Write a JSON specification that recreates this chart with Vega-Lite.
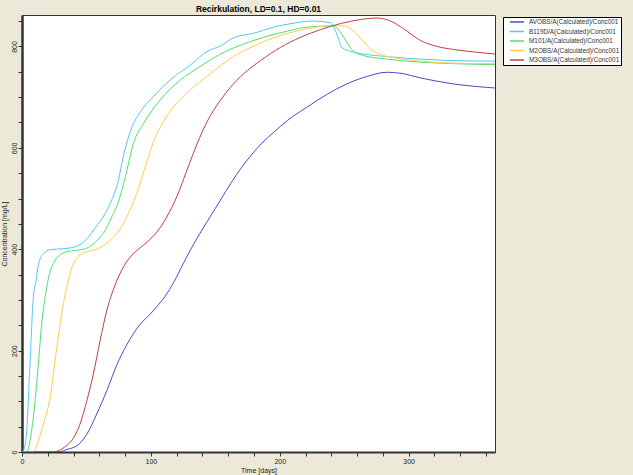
{
  "$schema": "https://vega.github.io/schema/vega-lite/v6.json",
  "autosize": {"type": "none"},
  "padding": {"left": 22, "top": 15, "right": 138, "bottom": 23},
  "width": 473,
  "height": 437,
  "background": "#ECE9D8",
  "title": {"text": "Recirkulation, LD=0.1, HD=0.01", "font": "Liberation Sans", "fontSize": 8.5, "fontWeight": "bold", "color": "#000", "offset": 2},
  "config": {
    "view": {"fill": "white", "stroke": "#333", "strokeWidth": 1},
    "axis": {"labelFont": "Liberation Sans", "titleFont": "Liberation Sans", "labelFontSize": 7, "titleFontSize": 7, "titleFontWeight": "normal", "labelColor": "#222", "titleColor": "#222", "domainColor": "#333", "domainWidth": 2.5, "tickColor": "#333", "grid": false}
  },
  "datasets": {
    "d": [
      {"s":"AVOBS/A(Calculated)/Conc001","t":0,"c":0},{"s":"AVOBS/A(Calculated)/Conc001","t":24,"c":0},{"s":"AVOBS/A(Calculated)/Conc001","t":30,"c":1},{"s":"AVOBS/A(Calculated)/Conc001","t":34.7,"c":5},{"s":"AVOBS/A(Calculated)/Conc001","t":42.5,"c":12},{"s":"AVOBS/A(Calculated)/Conc001","t":50.3,"c":35},{"s":"AVOBS/A(Calculated)/Conc001","t":58,"c":75},{"s":"AVOBS/A(Calculated)/Conc001","t":65.8,"c":121},{"s":"AVOBS/A(Calculated)/Conc001","t":73.6,"c":172},{"s":"AVOBS/A(Calculated)/Conc001","t":81.4,"c":212},{"s":"AVOBS/A(Calculated)/Conc001","t":91.7,"c":252},{"s":"AVOBS/A(Calculated)/Conc001","t":99.5,"c":272},{"s":"AVOBS/A(Calculated)/Conc001","t":105,"c":288},{"s":"AVOBS/A(Calculated)/Conc001","t":111,"c":307},{"s":"AVOBS/A(Calculated)/Conc001","t":118,"c":336},{"s":"AVOBS/A(Calculated)/Conc001","t":125,"c":371},{"s":"AVOBS/A(Calculated)/Conc001","t":131,"c":400},{"s":"AVOBS/A(Calculated)/Conc001","t":138,"c":431},{"s":"AVOBS/A(Calculated)/Conc001","t":146,"c":464},{"s":"AVOBS/A(Calculated)/Conc001","t":154,"c":497},{"s":"AVOBS/A(Calculated)/Conc001","t":162,"c":530},{"s":"AVOBS/A(Calculated)/Conc001","t":170,"c":560},{"s":"AVOBS/A(Calculated)/Conc001","t":178,"c":586},{"s":"AVOBS/A(Calculated)/Conc001","t":186,"c":609},{"s":"AVOBS/A(Calculated)/Conc001","t":195,"c":630},{"s":"AVOBS/A(Calculated)/Conc001","t":206,"c":654},{"s":"AVOBS/A(Calculated)/Conc001","t":221,"c":680},{"s":"AVOBS/A(Calculated)/Conc001","t":237,"c":706},{"s":"AVOBS/A(Calculated)/Conc001","t":252,"c":726},{"s":"AVOBS/A(Calculated)/Conc001","t":268,"c":741},{"s":"AVOBS/A(Calculated)/Conc001","t":283,"c":749},{"s":"AVOBS/A(Calculated)/Conc001","t":294,"c":747},{"s":"AVOBS/A(Calculated)/Conc001","t":309,"c":738},{"s":"AVOBS/A(Calculated)/Conc001","t":335,"c":726},{"s":"AVOBS/A(Calculated)/Conc001","t":367,"c":718},
      {"s":"B119D/A(Calculated)/Conc001","t":0,"c":0},{"s":"B119D/A(Calculated)/Conc001","t":1,"c":2},{"s":"B119D/A(Calculated)/Conc001","t":3.6,"c":41},{"s":"B119D/A(Calculated)/Conc001","t":6.2,"c":174},{"s":"B119D/A(Calculated)/Conc001","t":8.8,"c":305},{"s":"B119D/A(Calculated)/Conc001","t":10.9,"c":338},{"s":"B119D/A(Calculated)/Conc001","t":12.7,"c":369},{"s":"B119D/A(Calculated)/Conc001","t":16.6,"c":391},{"s":"B119D/A(Calculated)/Conc001","t":21.8,"c":399},{"s":"B119D/A(Calculated)/Conc001","t":32,"c":401},{"s":"B119D/A(Calculated)/Conc001","t":40,"c":404},{"s":"B119D/A(Calculated)/Conc001","t":45,"c":409},{"s":"B119D/A(Calculated)/Conc001","t":49,"c":417},{"s":"B119D/A(Calculated)/Conc001","t":53,"c":429},{"s":"B119D/A(Calculated)/Conc001","t":57,"c":443},{"s":"B119D/A(Calculated)/Conc001","t":60.6,"c":455},{"s":"B119D/A(Calculated)/Conc001","t":64.5,"c":470},{"s":"B119D/A(Calculated)/Conc001","t":68.4,"c":490},{"s":"B119D/A(Calculated)/Conc001","t":74.8,"c":536},{"s":"B119D/A(Calculated)/Conc001","t":78.5,"c":582},{"s":"B119D/A(Calculated)/Conc001","t":84,"c":632},{"s":"B119D/A(Calculated)/Conc001","t":93,"c":675},{"s":"B119D/A(Calculated)/Conc001","t":102,"c":701},{"s":"B119D/A(Calculated)/Conc001","t":115,"c":734},{"s":"B119D/A(Calculated)/Conc001","t":130.5,"c":763},{"s":"B119D/A(Calculated)/Conc001","t":143.5,"c":790},{"s":"B119D/A(Calculated)/Conc001","t":154,"c":801},{"s":"B119D/A(Calculated)/Conc001","t":164,"c":817},{"s":"B119D/A(Calculated)/Conc001","t":180,"c":826},{"s":"B119D/A(Calculated)/Conc001","t":195,"c":838},{"s":"B119D/A(Calculated)/Conc001","t":211,"c":846},{"s":"B119D/A(Calculated)/Conc001","t":224,"c":850},{"s":"B119D/A(Calculated)/Conc001","t":239,"c":847},{"s":"B119D/A(Calculated)/Conc001","t":243,"c":832},{"s":"B119D/A(Calculated)/Conc001","t":246,"c":812},{"s":"B119D/A(Calculated)/Conc001","t":248,"c":798},{"s":"B119D/A(Calculated)/Conc001","t":257,"c":789},{"s":"B119D/A(Calculated)/Conc001","t":283,"c":780},{"s":"B119D/A(Calculated)/Conc001","t":309,"c":775},{"s":"B119D/A(Calculated)/Conc001","t":335,"c":772},{"s":"B119D/A(Calculated)/Conc001","t":367,"c":771},
      {"s":"M101/A(Calculated)/Conc001","t":0,"c":0},{"s":"M101/A(Calculated)/Conc001","t":3.6,"c":0},{"s":"M101/A(Calculated)/Conc001","t":6.2,"c":22},{"s":"M101/A(Calculated)/Conc001","t":8.8,"c":68},{"s":"M101/A(Calculated)/Conc001","t":12.7,"c":174},{"s":"M101/A(Calculated)/Conc001","t":15.3,"c":253},{"s":"M101/A(Calculated)/Conc001","t":17.9,"c":305},{"s":"M101/A(Calculated)/Conc001","t":21.8,"c":356},{"s":"M101/A(Calculated)/Conc001","t":24.3,"c":372},{"s":"M101/A(Calculated)/Conc001","t":29.5,"c":389},{"s":"M101/A(Calculated)/Conc001","t":34.7,"c":395},{"s":"M101/A(Calculated)/Conc001","t":42.5,"c":398},{"s":"M101/A(Calculated)/Conc001","t":50.3,"c":402},{"s":"M101/A(Calculated)/Conc001","t":55,"c":410},{"s":"M101/A(Calculated)/Conc001","t":60.6,"c":424},{"s":"M101/A(Calculated)/Conc001","t":64.5,"c":437},{"s":"M101/A(Calculated)/Conc001","t":68.4,"c":457},{"s":"M101/A(Calculated)/Conc001","t":76,"c":503},{"s":"M101/A(Calculated)/Conc001","t":81.4,"c":556},{"s":"M101/A(Calculated)/Conc001","t":86.5,"c":609},{"s":"M101/A(Calculated)/Conc001","t":94.3,"c":648},{"s":"M101/A(Calculated)/Conc001","t":107,"c":694},{"s":"M101/A(Calculated)/Conc001","t":123,"c":734},{"s":"M101/A(Calculated)/Conc001","t":138,"c":760},{"s":"M101/A(Calculated)/Conc001","t":154,"c":785},{"s":"M101/A(Calculated)/Conc001","t":169,"c":802},{"s":"M101/A(Calculated)/Conc001","t":187.5,"c":818},{"s":"M101/A(Calculated)/Conc001","t":205.7,"c":830},{"s":"M101/A(Calculated)/Conc001","t":221,"c":838},{"s":"M101/A(Calculated)/Conc001","t":237,"c":840},{"s":"M101/A(Calculated)/Conc001","t":242,"c":840},{"s":"M101/A(Calculated)/Conc001","t":247,"c":828},{"s":"M101/A(Calculated)/Conc001","t":252,"c":808},{"s":"M101/A(Calculated)/Conc001","t":257,"c":791},{"s":"M101/A(Calculated)/Conc001","t":265,"c":782},{"s":"M101/A(Calculated)/Conc001","t":283,"c":775},{"s":"M101/A(Calculated)/Conc001","t":309,"c":769},{"s":"M101/A(Calculated)/Conc001","t":335,"c":766},{"s":"M101/A(Calculated)/Conc001","t":367,"c":764},
      {"s":"M2OBS/A(Calculated)/Conc001","t":0,"c":0},{"s":"M2OBS/A(Calculated)/Conc001","t":8.8,"c":0},{"s":"M2OBS/A(Calculated)/Conc001","t":12.7,"c":22},{"s":"M2OBS/A(Calculated)/Conc001","t":16.6,"c":55},{"s":"M2OBS/A(Calculated)/Conc001","t":21.8,"c":107},{"s":"M2OBS/A(Calculated)/Conc001","t":27,"c":206},{"s":"M2OBS/A(Calculated)/Conc001","t":30.8,"c":273},{"s":"M2OBS/A(Calculated)/Conc001","t":34.7,"c":325},{"s":"M2OBS/A(Calculated)/Conc001","t":38.6,"c":363},{"s":"M2OBS/A(Calculated)/Conc001","t":43.7,"c":386},{"s":"M2OBS/A(Calculated)/Conc001","t":50.3,"c":395},{"s":"M2OBS/A(Calculated)/Conc001","t":58,"c":400},{"s":"M2OBS/A(Calculated)/Conc001","t":63,"c":407},{"s":"M2OBS/A(Calculated)/Conc001","t":68,"c":417},{"s":"M2OBS/A(Calculated)/Conc001","t":73.6,"c":431},{"s":"M2OBS/A(Calculated)/Conc001","t":81.4,"c":464},{"s":"M2OBS/A(Calculated)/Conc001","t":89,"c":510},{"s":"M2OBS/A(Calculated)/Conc001","t":95.6,"c":562},{"s":"M2OBS/A(Calculated)/Conc001","t":102,"c":612},{"s":"M2OBS/A(Calculated)/Conc001","t":110,"c":653},{"s":"M2OBS/A(Calculated)/Conc001","t":117.6,"c":681},{"s":"M2OBS/A(Calculated)/Conc001","t":130.5,"c":714},{"s":"M2OBS/A(Calculated)/Conc001","t":143.5,"c":741},{"s":"M2OBS/A(Calculated)/Conc001","t":154,"c":762},{"s":"M2OBS/A(Calculated)/Conc001","t":164,"c":780},{"s":"M2OBS/A(Calculated)/Conc001","t":180,"c":801},{"s":"M2OBS/A(Calculated)/Conc001","t":195,"c":817},{"s":"M2OBS/A(Calculated)/Conc001","t":211,"c":829},{"s":"M2OBS/A(Calculated)/Conc001","t":226,"c":837},{"s":"M2OBS/A(Calculated)/Conc001","t":239,"c":841},{"s":"M2OBS/A(Calculated)/Conc001","t":250,"c":840},{"s":"M2OBS/A(Calculated)/Conc001","t":255,"c":835},{"s":"M2OBS/A(Calculated)/Conc001","t":263,"c":815},{"s":"M2OBS/A(Calculated)/Conc001","t":270,"c":796},{"s":"M2OBS/A(Calculated)/Conc001","t":278,"c":784},{"s":"M2OBS/A(Calculated)/Conc001","t":288.5,"c":778},{"s":"M2OBS/A(Calculated)/Conc001","t":309,"c":771},{"s":"M2OBS/A(Calculated)/Conc001","t":335,"c":767},{"s":"M2OBS/A(Calculated)/Conc001","t":367,"c":766},
      {"s":"M3OBS/A(Calculated)/Conc001","t":0,"c":0},{"s":"M3OBS/A(Calculated)/Conc001","t":24,"c":0},{"s":"M3OBS/A(Calculated)/Conc001","t":32,"c":8},{"s":"M3OBS/A(Calculated)/Conc001","t":40,"c":28},{"s":"M3OBS/A(Calculated)/Conc001","t":45,"c":55},{"s":"M3OBS/A(Calculated)/Conc001","t":50.3,"c":101},{"s":"M3OBS/A(Calculated)/Conc001","t":55.4,"c":154},{"s":"M3OBS/A(Calculated)/Conc001","t":60.6,"c":220},{"s":"M3OBS/A(Calculated)/Conc001","t":65.8,"c":279},{"s":"M3OBS/A(Calculated)/Conc001","t":73.6,"c":338},{"s":"M3OBS/A(Calculated)/Conc001","t":81.4,"c":376},{"s":"M3OBS/A(Calculated)/Conc001","t":88,"c":395},{"s":"M3OBS/A(Calculated)/Conc001","t":91.7,"c":403},{"s":"M3OBS/A(Calculated)/Conc001","t":97,"c":414},{"s":"M3OBS/A(Calculated)/Conc001","t":104.7,"c":434},{"s":"M3OBS/A(Calculated)/Conc001","t":112.4,"c":464},{"s":"M3OBS/A(Calculated)/Conc001","t":120,"c":503},{"s":"M3OBS/A(Calculated)/Conc001","t":128,"c":556},{"s":"M3OBS/A(Calculated)/Conc001","t":135.7,"c":607},{"s":"M3OBS/A(Calculated)/Conc001","t":143.5,"c":651},{"s":"M3OBS/A(Calculated)/Conc001","t":154,"c":694},{"s":"M3OBS/A(Calculated)/Conc001","t":161.6,"c":719},{"s":"M3OBS/A(Calculated)/Conc001","t":172,"c":746},{"s":"M3OBS/A(Calculated)/Conc001","t":185,"c":772},{"s":"M3OBS/A(Calculated)/Conc001","t":200.5,"c":798},{"s":"M3OBS/A(Calculated)/Conc001","t":216,"c":818},{"s":"M3OBS/A(Calculated)/Conc001","t":231.5,"c":833},{"s":"M3OBS/A(Calculated)/Conc001","t":247,"c":845},{"s":"M3OBS/A(Calculated)/Conc001","t":262.6,"c":853},{"s":"M3OBS/A(Calculated)/Conc001","t":275.6,"c":856},{"s":"M3OBS/A(Calculated)/Conc001","t":286,"c":850},{"s":"M3OBS/A(Calculated)/Conc001","t":296,"c":835},{"s":"M3OBS/A(Calculated)/Conc001","t":309,"c":812},{"s":"M3OBS/A(Calculated)/Conc001","t":322,"c":800},{"s":"M3OBS/A(Calculated)/Conc001","t":335,"c":794},{"s":"M3OBS/A(Calculated)/Conc001","t":351,"c":789},{"s":"M3OBS/A(Calculated)/Conc001","t":367,"c":785}
    ]
  },
  "data": {"name": "d"},
  "mark": {"type": "line", "strokeWidth": 1, "interpolate": "monotone", "clip": true},
  "encoding": {
    "x": {"field": "t", "type": "quantitative", "title": "Time  [days]",
      "scale": {"domain": [0, 367], "nice": false, "zero": false},
      "axis": {"values": [0,20,40,60,80,100,120,140,160,180,200,220,240,260,280,300,320,340,360], "labelExpr": "datum.value % 100 === 0 ? datum.label : ''", "tickSize": 4, "labelPadding": 1, "titlePadding": 2, "labelFlush": false, "domainWidth": 2}},
    "y": {"field": "c", "type": "quantitative", "title": "Concentration [mg/L]",
      "scale": {"domain": [0, 862], "nice": false},
      "axis": {"values": [0,50,100,150,200,250,300,350,400,450,500,550,600,650,700,750,800,850], "labelExpr": "datum.value % 200 === 0 ? datum.label : ''", "labelAngle": -90, "labelAlign": "center", "labelBaseline": "bottom", "tickSize": 4, "labelPadding": 1, "titlePadding": 3, "labelFlush": false, "domainWidth": 2.5}},
    "color": {"field": "s", "type": "nominal", "sort": null,
      "scale": {"domain": ["AVOBS/A(Calculated)/Conc001","B119D/A(Calculated)/Conc001","M101/A(Calculated)/Conc001","M2OBS/A(Calculated)/Conc001","M3OBS/A(Calculated)/Conc001"],
        "range": ["#4b4bc8","#55c8f0","#4ee06e","#ffcc4d","#c04040"]},
      "legend": {"title": null, "orient": "none", "legendX": 481, "legendY": 2, "symbolType": "stroke", "symbolSize": 196, "clipHeight": 8, "symbolOffset": 5, "symbolStrokeWidth": 1.5, "labelFont": "Liberation Sans", "labelFontSize": 6.4, "labelColor": "#333", "rowPadding": 1.5, "padding": 1, "strokeColor": "#000", "fillColor": "#fff", "labelOffset": 4, "offset": 0}}
  }
}
